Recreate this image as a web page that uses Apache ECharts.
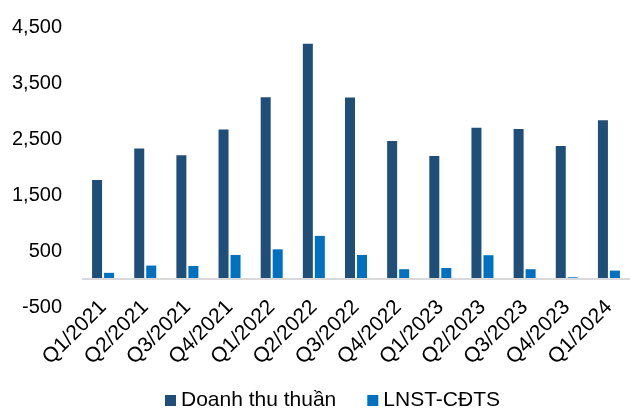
<!DOCTYPE html>
<html>
<head>
<meta charset="utf-8">
<script src="https://cdn.jsdelivr.net/npm/echarts@6/dist/echarts.min.js"></script>
<style>
  html, body { margin: 0; padding: 0; background: #ffffff; }
  #chart { width: 630px; height: 410px; }
</style>
</head>
<body>
<div id="chart"></div>
<script>
// Quarterly revenue and profit (billion VND)
var quarters = ['Q1/2021', 'Q2/2021', 'Q3/2021', 'Q4/2021', 'Q1/2022', 'Q2/2022', 'Q3/2022',
                'Q4/2022', 'Q1/2023', 'Q2/2023', 'Q3/2023', 'Q4/2023', 'Q1/2024'];
var netRevenue = [1770, 2330, 2210, 2670, 3245, 4200, 3240, 2465, 2195, 2700, 2680, 2375, 2835];
var profitAfterTax = [110, 240, 232, 430, 530, 770, 430, 175, 196, 425, 175, 30, 150];
var seriesNames = ['Doanh thu thuần', 'LNST-CĐTS'];

var FONT = 'Liberation Sans, Arial, sans-serif';
var chart = echarts.init(document.getElementById('chart'), null, { renderer: 'canvas' });

chart.setOption({
  animation: false,
  backgroundColor: '#ffffff',
  grid: { left: 82, top: 27, width: 552.5, height: 280, containLabel: false },
  legend: {
    left: 165,
    top: 390,
    padding: 0,
    itemWidth: 11,
    itemHeight: 11,
    itemGap: 31,
    icon: 'rect',
    textStyle: { fontFamily: FONT, fontSize: 21, color: '#000000', padding: [0, 0, 0, 0] },
    data: seriesNames
  },
  xAxis: {
    type: 'category',
    data: quarters,
    axisLine: { show: false, onZero: false },
    axisTick: { show: false },
    axisLabel: {
      rotate: 45,
      interval: 0,
      margin: -3,
      fontFamily: FONT,
      fontSize: 21,
      color: '#000000'
    }
  },
  yAxis: {
    type: 'value',
    min: -500,
    max: 4500,
    interval: 1000,
    axisLine: { show: false },
    axisTick: { show: false },
    splitLine: { show: false },
    axisLabel: {
      margin: 20,
      fontFamily: FONT,
      fontSize: 20,
      color: '#000000',
      formatter: function (v) { return v.toLocaleString('en-US'); }
    }
  },
  series: [
    {
      name: seriesNames[0],
      type: 'bar',
      data: netRevenue,
      barWidth: 10,
      barGap: '20%',
      itemStyle: { color: '#1F4E79' },
      markLine: {
        silent: true,
        symbol: 'none',
        label: { show: false },
        lineStyle: { color: '#d9d9d9', width: 2, type: 'solid' },
        data: [{ yAxis: 0 }]
      }
    },
    {
      name: seriesNames[1],
      type: 'bar',
      data: profitAfterTax,
      barWidth: 10,
      barGap: '20%',
      itemStyle: { color: '#0070C0' }
    }
  ]
});
</script>
</body>
</html>
